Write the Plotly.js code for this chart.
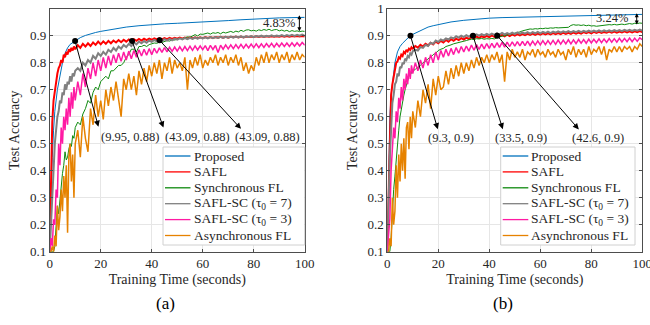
<!DOCTYPE html>
<html>
<head>
<meta charset="utf-8">
<script src="https://cdn.plot.ly/plotly-3.0.1.min.js"></script>
<style>html,body{margin:0;padding:0;background:#fff;}#chart{width:650px;height:325px;}</style>
</head>
<body>
<div id="chart"></div>
<script>
// ---------- time grids ----------
const T = [0,0.5,1,1.5,2,2.5,3,3.5,4,4.5,5,5.5,6,6.5,7,7.5,8,8.5,9,9.5,10,
11,12,13,14,15,16,17,18,19,20,21,22,23,24,25,26,27,28,29,30,
31,32,33,34,35,36,37,38,39,40,41,42,43,44,45,46,47,48,49,50,
51,52,53,54,55,56,57,58,59,60,61,62,63,64,65,66,67,68,69,70,
71,72,73,74,75,76,77,78,79,80,81,82,83,84,85,86,87,88,89,90,
91,92,93,94,95,96,97,98,99,100];
const TP = [0,0.5,1,1.5,2,3,4,5,6,7,8,9,10,12,14,16,18,20,25,30,35,40,45,50,55,60,65,70,75,80,85,90,95,100];

const seriesNames = ['Proposed','SAFL','Synchronous FL','SAFL-SC (τ<sub>0</sub> = 7)','SAFL-SC (τ<sub>0</sub> = 3)','Asynchronous FL'];

// ---------- (a) ----------
const propA = [0.1,0.3,0.45,0.55,0.62,0.7,0.75,0.8,0.835,0.855,0.868,0.875,0.881,0.893,0.901,0.907,0.912,0.916,0.925,0.932,0.937,0.941,0.944,0.946,0.948,0.95,0.953,0.956,0.959,0.962,0.964,0.966,0.967,0.968];
const saflA = [0.12,0.42,0.58,0.66,0.7,0.74,0.76,0.78,0.79,0.81,0.8,0.83,0.82,0.84,0.83,0.85,0.84,0.855,0.845,0.86,0.85,
0.865,0.855,0.87,0.86,0.872,0.862,0.875,0.866,0.878,0.868,
0.879,0.87,0.881,0.872,0.882,0.875,0.884,0.876,0.885,0.878,
0.886,0.88,0.887,0.881,0.888,0.882,0.889,0.884,0.889,0.885,
0.89,0.886,0.891,0.886,0.891,0.887,0.892,0.888,0.892,0.889,
0.893,0.889,0.893,0.89,0.894,0.89,0.894,0.891,0.894,0.891,
0.895,0.892,0.895,0.892,0.895,0.893,0.896,0.893,0.896,0.893,
0.896,0.894,0.897,0.894,0.897,0.894,0.897,0.895,0.897,0.895,
0.898,0.895,0.898,0.895,0.898,0.896,0.898,0.896,0.898,0.896,
0.899,0.896,0.899,0.896,0.899,0.897,0.899,0.897,0.899,0.897];
const syncA = [0.1,0.1,0.1,0.1,0.12,0.18,0.27,0.24,0.3,0.35,0.39,0.42,0.47,0.44,0.45,0.48,0.5,0.49,0.53,0.52,0.56,
0.58,0.57,0.61,0.63,0.66,0.65,0.69,0.71,0.7,0.73,
0.74,0.75,0.74,0.77,0.77,0.78,0.79,0.79,0.8,0.82,
0.83,0.85,0.85,0.84,0.86,0.86,0.865,0.86,0.867,0.87,
0.873,0.872,0.876,0.875,0.879,0.882,0.88,0.885,0.884,0.888,
0.89,0.889,0.893,0.896,0.894,0.9,0.904,0.899,0.906,0.905,
0.908,0.91,0.906,0.911,0.909,0.912,0.907,0.913,0.91,0.914,
0.916,0.912,0.917,0.914,0.92,0.916,0.921,0.922,0.918,0.92,
0.917,0.922,0.919,0.923,0.92,0.924,0.919,0.922,0.923,0.918,
0.921,0.917,0.92,0.915,0.919,0.916,0.918,0.915,0.917,0.916];
const sc7A = [0.1,0.2,0.33,0.42,0.5,0.55,0.6,0.62,0.66,0.65,0.69,0.68,0.72,0.7,0.73,0.72,0.75,0.73,0.76,0.75,0.77,
0.78,0.77,0.8,0.79,0.81,0.8,0.825,0.815,0.835,0.825,
0.84,0.83,0.848,0.84,0.855,0.845,0.86,0.852,0.866,0.858,
0.87,0.862,0.875,0.868,0.878,0.872,0.88,0.874,0.882,0.877,
0.884,0.879,0.886,0.88,0.887,0.882,0.888,0.883,0.889,0.885,
0.89,0.886,0.891,0.887,0.892,0.888,0.893,0.889,0.893,0.89,
0.894,0.89,0.895,0.891,0.895,0.892,0.896,0.892,0.896,0.893,
0.897,0.893,0.897,0.894,0.898,0.894,0.898,0.895,0.899,0.895,
0.899,0.896,0.9,0.896,0.9,0.897,0.901,0.897,0.901,0.898,
0.902,0.898,0.902,0.899,0.903,0.899,0.903,0.9,0.904,0.9];
const sc3A = [0.1,0.15,0.12,0.22,0.2,0.33,0.3,0.5,0.42,0.56,0.5,0.6,0.55,0.63,0.57,0.67,0.6,0.69,0.63,0.71,0.66,
0.73,0.68,0.76,0.71,0.78,0.74,0.8,0.75,0.81,0.77,
0.82,0.78,0.825,0.79,0.83,0.8,0.835,0.805,0.84,0.81,
0.843,0.815,0.845,0.82,0.848,0.825,0.85,0.828,0.852,0.83,
0.853,0.835,0.855,0.838,0.856,0.84,0.857,0.842,0.858,0.843,
0.859,0.844,0.86,0.845,0.861,0.846,0.862,0.847,0.862,0.848,
0.863,0.845,0.864,0.849,0.864,0.838,0.865,0.85,0.866,0.851,
0.866,0.852,0.867,0.853,0.868,0.854,0.868,0.855,0.869,0.856,
0.87,0.856,0.87,0.857,0.871,0.858,0.872,0.858,0.872,0.859,
0.873,0.86,0.873,0.86,0.874,0.861,0.874,0.862,0.875,0.865];
const asyncA = [0.1,0.1,0.12,0.1,0.16,0.12,0.27,0.18,0.23,0.33,0.25,0.38,0.3,0.42,0.17,0.45,0.5,0.36,0.46,0.3,0.5,
0.55,0.45,0.6,0.52,0.47,0.63,0.57,0.68,0.6,0.66,
0.59,0.7,0.64,0.71,0.66,0.73,0.67,0.6,0.74,0.7,
0.76,0.7,0.75,0.68,0.77,0.72,0.78,0.73,0.79,0.75,
0.8,0.76,0.81,0.74,0.8,0.77,0.82,0.76,0.81,0.78,
0.8,0.77,0.82,0.7,0.81,0.78,0.82,0.79,0.83,0.78,
0.81,0.79,0.82,0.8,0.83,0.79,0.82,0.8,0.83,0.79,
0.82,0.8,0.83,0.79,0.82,0.77,0.8,0.76,0.79,0.77,
0.82,0.79,0.83,0.8,0.84,0.8,0.83,0.81,0.84,0.8,
0.83,0.81,0.84,0.8,0.83,0.81,0.84,0.81,0.83,0.82];

// ---------- (b) ----------
const propB = [0.1,0.4,0.6,0.68,0.72,0.8,0.84,0.86,0.872,0.882,0.89,0.9,0.905,0.915,0.925,0.932,0.937,0.941,0.951,0.957,0.962,0.965,0.967,0.968,0.97,0.971,0.972,0.974,0.975,0.975,0.977,0.978,0.978,0.979];
const saflB = [0.12,0.3,0.55,0.68,0.72,0.75,0.78,0.8,0.805,0.82,0.815,0.83,0.825,0.84,0.835,0.848,0.842,0.852,0.847,0.857,0.852,
0.862,0.856,0.866,0.86,0.87,0.864,0.874,0.868,0.878,0.872,
0.881,0.875,0.884,0.878,0.887,0.881,0.889,0.884,0.891,0.886,
0.893,0.888,0.895,0.89,0.897,0.892,0.898,0.894,0.899,0.895,
0.901,0.896,0.902,0.897,0.903,0.898,0.904,0.899,0.905,0.9,
0.906,0.901,0.906,0.902,0.907,0.903,0.908,0.903,0.908,0.904,
0.909,0.905,0.909,0.905,0.91,0.906,0.91,0.906,0.911,0.907,
0.911,0.907,0.912,0.908,0.912,0.908,0.913,0.909,0.913,0.909,
0.914,0.91,0.914,0.91,0.914,0.911,0.915,0.911,0.915,0.911,
0.915,0.912,0.916,0.912,0.916,0.912,0.916,0.913,0.917,0.913];
const syncB = [0.1,0.1,0.1,0.15,0.25,0.33,0.38,0.45,0.5,0.55,0.6,0.63,0.66,0.68,0.7,0.72,0.73,0.75,0.755,0.765,0.77,
0.775,0.785,0.79,0.8,0.805,0.815,0.82,0.83,0.835,0.845,
0.85,0.853,0.86,0.862,0.866,0.87,0.872,0.875,0.878,0.88,
0.882,0.885,0.887,0.886,0.889,0.888,0.89,0.887,0.889,0.888,
0.89,0.888,0.893,0.897,0.898,0.9,0.903,0.905,0.907,0.91,
0.912,0.914,0.918,0.92,0.923,0.925,0.924,0.926,0.925,0.927,
0.926,0.928,0.927,0.929,0.928,0.93,0.929,0.93,0.929,0.93,
0.931,0.938,0.941,0.939,0.94,0.938,0.94,0.937,0.939,0.936,
0.937,0.935,0.936,0.938,0.94,0.939,0.941,0.94,0.942,0.94,
0.941,0.943,0.941,0.944,0.945,0.943,0.946,0.945,0.947,0.946];
const sc7B = [0.1,0.3,0.45,0.55,0.65,0.68,0.72,0.73,0.76,0.75,0.785,0.78,0.8,0.795,0.815,0.81,0.825,0.82,0.835,0.83,0.843,
0.848,0.845,0.858,0.855,0.866,0.862,0.874,0.87,0.882,0.877,
0.886,0.882,0.89,0.886,0.894,0.89,0.898,0.893,0.9,0.895,
0.902,0.897,0.903,0.899,0.905,0.9,0.906,0.901,0.907,0.902,
0.908,0.903,0.909,0.904,0.91,0.905,0.91,0.906,0.911,0.906,
0.912,0.907,0.912,0.908,0.913,0.908,0.913,0.909,0.914,0.909,
0.914,0.91,0.915,0.91,0.915,0.911,0.916,0.911,0.916,0.912,
0.917,0.912,0.917,0.913,0.918,0.913,0.918,0.914,0.919,0.914,
0.919,0.915,0.92,0.915,0.92,0.916,0.92,0.916,0.921,0.917,
0.921,0.917,0.922,0.918,0.922,0.918,0.922,0.919,0.923,0.919];
const sc3B = [0.1,0.15,0.22,0.4,0.5,0.56,0.52,0.62,0.58,0.67,0.63,0.71,0.66,0.74,0.7,0.76,0.72,0.78,0.74,0.79,0.76,
0.8,0.77,0.81,0.78,0.82,0.79,0.83,0.8,0.84,0.81,
0.845,0.82,0.85,0.825,0.853,0.83,0.856,0.835,0.86,0.84,
0.862,0.843,0.865,0.846,0.867,0.849,0.869,0.851,0.871,0.853,
0.872,0.855,0.874,0.857,0.875,0.858,0.876,0.86,0.877,0.861,
0.878,0.862,0.879,0.863,0.88,0.864,0.88,0.865,0.881,0.866,
0.882,0.867,0.882,0.868,0.883,0.868,0.884,0.869,0.884,0.87,
0.885,0.87,0.885,0.871,0.886,0.872,0.886,0.872,0.887,0.873,
0.887,0.874,0.888,0.874,0.888,0.875,0.889,0.876,0.889,0.876,
0.89,0.877,0.89,0.878,0.891,0.878,0.891,0.879,0.892,0.885];
const asyncB = [0.1,0.1,0.15,0.12,0.3,0.2,0.25,0.42,0.3,0.46,0.36,0.5,0.4,0.52,0.37,0.56,0.58,0.48,0.6,0.52,0.62,
0.56,0.66,0.6,0.7,0.65,0.72,0.63,0.74,0.68,0.75,
0.7,0.71,0.77,0.72,0.78,0.74,0.79,0.75,0.8,0.76,
0.8,0.77,0.81,0.78,0.82,0.79,0.82,0.8,0.83,0.8,
0.83,0.81,0.84,0.8,0.83,0.73,0.84,0.81,0.85,0.82,
0.84,0.82,0.85,0.81,0.84,0.83,0.85,0.82,0.85,0.83,
0.84,0.82,0.85,0.83,0.84,0.82,0.85,0.83,0.84,0.81,
0.85,0.83,0.86,0.82,0.85,0.83,0.85,0.82,0.86,0.83,
0.85,0.84,0.86,0.83,0.86,0.81,0.85,0.84,0.86,0.84,
0.86,0.84,0.86,0.85,0.86,0.84,0.86,0.85,0.87,0.86];

// ---------- annotations ----------
const markA_x = [9.95, 32.3, 43.09];
const markA_y = [0.88, 0.88, 0.883];
const labelA = ['(9.95, 0.88)', '(43.09, 0.88)', '(43.09, 0.88)'];
const markB_x = [9.1, 33.6, 43.1];
const markB_y = [0.9, 0.9, 0.9];
const labelB = ['(9.3, 0.9)', '(33.5, 0.9)', '(42.6, 0.9)'];
const gapA = {text: '4.83%', top: 0.976, bottom: 0.911};
const gapB = {text: '3.24%', top: 0.983, bottom: 0.936};

// ---------- styling ----------
const colors = ['#0072BD', '#FF0000', '#0E8A0E', '#808080', '#FF1AA3', '#E68200'];
const widths = [1, 2, 1, 2, 1.5, 1.5];
const FONT = "'Liberation Serif', 'Times New Roman', serif";
const W = 650, H = 325;
const px = v => v / W;
const py = v => 1 - v / H;

function buildTraces(sets, xa, ya) {
  return sets.map((s, i) => ({
    x: s[0], y: s[1], type: 'scatter', mode: 'lines',
    name: seriesNames[i], xaxis: xa, yaxis: ya, showlegend: false,
    line: {color: colors[i], width: widths[i]}
  }));
}

const tracesA = buildTraces([[TP, propA], [T, saflA], [T, syncA], [T, sc7A], [T, sc3A], [T, asyncA]], 'x', 'y');
const tracesB = buildTraces([[TP, propB], [T, saflB], [T, syncB], [T, sc7B], [T, sc3B], [T, asyncB]], 'x2', 'y2');

const dots = [
  {x: markA_x, y: markA_y, xaxis: 'x', yaxis: 'y', type: 'scatter', mode: 'markers', showlegend: false,
   marker: {color: '#000', size: 6}},
  {x: markB_x, y: markB_y, xaxis: 'x2', yaxis: 'y2', type: 'scatter', mode: 'markers', showlegend: false,
   marker: {color: '#000', size: 6}}
];

// arrow heads / text positions (layout placement)
const headA = [[19.1, 0.563], [44.6, 0.56], [75, 0.555]];
const textA = [[31.6, 0.526], [58.1, 0.526], [85.3, 0.526]];
const headB = [[19.8, 0.554], [45.3, 0.554], [75.1, 0.553]];
const textB = [[25.1, 0.523], [52.5, 0.523], [82.5, 0.523]];

const annotations = [];
const shapes = [];
function addMarks(mx, my, labels, heads, texts, xr, yr) {
  for (let i = 0; i < mx.length; i++) {
    annotations.push({xref: xr, yref: yr, axref: xr, ayref: yr, x: heads[i][0], y: heads[i][1],
      ax: mx[i], ay: my[i], text: '', showarrow: true, arrowhead: 2, arrowsize: 1.2, arrowwidth: 1,
      arrowcolor: '#000', standoff: 0, startstandoff: 0});
    annotations.push({xref: xr, yref: yr, x: texts[i][0], y: texts[i][1], text: labels[i], showarrow: false,
      font: {family: FONT, size: 12.5, color: '#262626'}});
  }
}
addMarks(markA_x, markA_y, labelA, headA, textA, 'x', 'y');
addMarks(markB_x, markB_y, labelB, headB, textB, 'x2', 'y2');

function addGap(g, xr, yr, ax, tx, ty) {
  annotations.push({xref: xr, yref: yr, axref: xr, ayref: yr, x: ax, y: g.top, ax: ax, ay: g.bottom,
    text: '', showarrow: true, arrowhead: 2, startarrowhead: 2, arrowside: 'end+start', arrowsize: 0.8,
    startarrowsize: 0.8, arrowwidth: 1, arrowcolor: '#000', standoff: 0, startstandoff: 0});
  annotations.push({xref: xr, yref: yr, x: tx, y: ty, text: g.text, showarrow: false,
    font: {family: FONT, size: 12.5, color: '#262626'}});
}
addGap(gapA, 'x', 'y', 97.9, 89.8, 0.947);
addGap(gapB, 'x2', 'y2', 97.8, 88.3, 0.966);

// legend boxes (drawn as layout shapes + texts, MATLAB style compact rows)
function addLegend(box, lx0, lx1, tx) {
  shapes.push({type: 'rect', xref: 'paper', yref: 'paper', x0: px(box[0]), x1: px(box[2]),
    y0: py(box[3]), y1: py(box[1]), fillcolor: '#FFFFFF', line: {color: '#D0D0D0', width: 1}, layer: 'above'});
  for (let i = 0; i < seriesNames.length; i++) {
    const yy = py(156 + 15.9 * i);
    shapes.push({type: 'line', xref: 'paper', yref: 'paper', x0: px(lx0), x1: px(lx1), y0: yy, y1: yy,
      line: {color: colors[i], width: 1.3}, layer: 'above'});
    annotations.push({xref: 'paper', yref: 'paper', x: px(tx), y: yy, xanchor: 'left', yanchor: 'middle',
      text: seriesNames[i], showarrow: false, font: {family: FONT, size: 13.5, color: '#262626'}});
  }
}
addLegend([163, 147, 304.7, 245], 165, 190.5, 191.5);
addLegend([500.7, 147, 635, 245], 502.7, 528.3, 529);

annotations.push({xref: 'paper', yref: 'paper', x: px(165), y: py(303), xanchor: 'center', yanchor: 'middle',
  text: '(a)', showarrow: false, font: {family: FONT, size: 17, color: '#000'}});
annotations.push({xref: 'paper', yref: 'paper', x: px(503), y: py(303), xanchor: 'center', yanchor: 'middle',
  text: '(b)', showarrow: false, font: {family: FONT, size: 17, color: '#000'}});

function xAxis(domain, anchor) {
  return {domain: domain, anchor: anchor, range: [0, 100], tickvals: [0, 20, 40, 60, 80, 100],
    showgrid: true, gridcolor: '#E6E6E6', zeroline: false, showline: true, linecolor: '#4D4D4D',
    linewidth: 1, mirror: 'ticks', ticks: 'inside', ticklen: 3, tickcolor: '#4D4D4D',
    ticklabeloverflow: 'allow',
    tickfont: {family: FONT, size: 13, color: '#262626'},
    title: {text: 'Training Time (seconds)', font: {family: FONT, size: 14, color: '#262626'}, standoff: 3}};
}
function yAxis(anchor, tv) {
  return {domain: [0.2255, 0.9732], anchor: anchor, range: [0.1, 1.0], tickvals: tv,
    showgrid: true, gridcolor: '#E6E6E6', zeroline: false, showline: true, linecolor: '#4D4D4D',
    linewidth: 1, mirror: 'ticks', ticks: 'inside', ticklen: 3, tickcolor: '#4D4D4D',
    ticklabeloverflow: 'allow',
    tickfont: {family: FONT, size: 13, color: '#262626'},
    title: {text: 'Test Accuracy', font: {family: FONT, size: 14, color: '#262626'}, standoff: 6}};
}

const layout = {
  width: W, height: H,
  margin: {l: 0, r: 0, t: 0, b: 0},
  paper_bgcolor: '#FFFFFF', plot_bgcolor: '#FFFFFF',
  showlegend: false,
  xaxis: xAxis([0.0765, 0.4688], 'y'),
  yaxis: yAxis('x', [0.1, 0.2, 0.3, 0.4, 0.5, 0.6, 0.7, 0.8, 0.9]),
  xaxis2: xAxis([0.5958, 0.9882], 'y2'),
  yaxis2: yAxis('x2', [0.1, 0.2, 0.3, 0.4, 0.5, 0.6, 0.7, 0.8, 0.9, 1]),
  shapes: shapes,
  annotations: annotations
};

Plotly.newPlot('chart', tracesA.concat(tracesB, dots), layout, {displayModeBar: false, staticPlot: true});
</script>
</body>
</html>
